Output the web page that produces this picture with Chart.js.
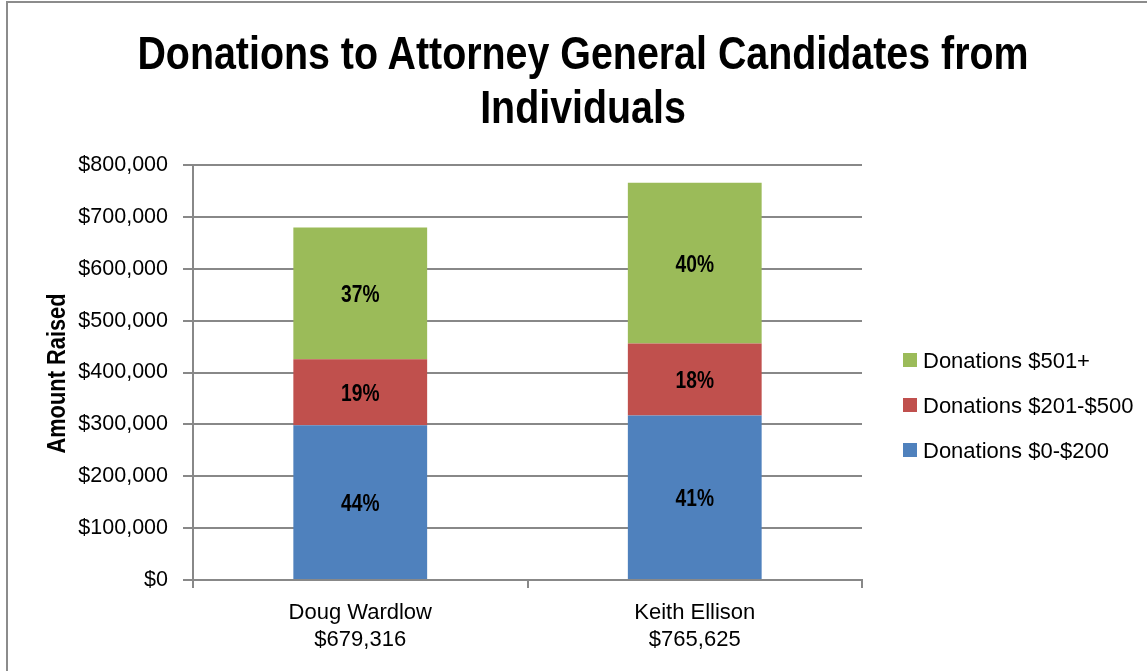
<!DOCTYPE html>
<html lang="en">
<head>
<meta charset="utf-8">
<title>Donations to Attorney General Candidates from Individuals</title>
<script src="https://cdn.jsdelivr.net/npm/chart.js"></script>
<style>
  html, body { margin: 0; padding: 0; background: #fff; overflow: hidden; }
  .chart-box { position: relative; width: 1147px; height: 671px; font-family: 'Liberation Sans', Arial, sans-serif; }
  .chart-box canvas { position: absolute; left: 0; top: 0; }
  .chart-frame { position: absolute; left: 6px; top: 1px; width: 1200px; height: 720px; border: 2px solid #8c8c8c; pointer-events: none; }
  /* bold narrow heading: the condensed face isn't installed, so squeeze the regular bold */
  .chart-title { position: absolute; left: 0; top: 26px; width: 1166px; margin: 0; text-align: center;
    font-weight: bold; font-size: 46px; line-height: 54px; color: #000;
    transform: scaleX(0.856); transform-origin: 583px 0; }
  .chart-legend { position: absolute; left: 903px; top: 338px; margin: 0; padding: 0; list-style: none; }
  .chart-legend li { display: flex; align-items: center; height: 45.3px; font-size: 22px; line-height: 22px; color: #000; white-space: nowrap; }
  .chart-legend .swatch { display: inline-block; width: 14px; height: 14px; margin-right: 6px; position: relative; top: -1px; }
</style>
</head>
<body>
<div class="chart-box">
  <canvas id="donationsChart" width="1147" height="671"></canvas>
  <h1 class="chart-title">Donations to Attorney General Candidates from<br>Individuals</h1>
  <ul class="chart-legend" id="donationsLegend"></ul>
  <div class="chart-frame"></div>
</div>
<script>
// candidates and their totals raised from individuals
const candidates = ['Doug Wardlow', 'Keith Ellison'];
const totals = [679316, 765625];

// amount raised by donation size
const upTo200 = [298500, 317000];
const from201To500 = [127000, 139000];
const over500 = [253816, 309625];

const yTicks = [0, 100000, 200000, 300000, 400000, 500000, 600000, 700000, 800000];

const sansFont = "'Liberation Sans', Arial, sans-serif";
const axisGray = '#888888';

function money(v) {
    return '$' + v.toLocaleString('en-US');
}

// bold text squeezed horizontally, like a narrow face
function narrowText(ctx, text, x, y, size, squeeze, angle) {
    ctx.save();
    ctx.translate(x, y);
    ctx.rotate(angle || 0);
    ctx.scale(squeeze, 1);
    ctx.font = 'bold ' + size + 'px ' + sansFont;
    ctx.fillText(text, 0, 0);
    ctx.restore();
}

// share of each segment, written in the middle of the bar
const percentLabels = {
    id: 'percentLabels',
    afterDatasetsDraw(chart) {
        const ctx = chart.ctx;
        ctx.save();
        ctx.fillStyle = '#000';
        ctx.textAlign = 'center';
        ctx.textBaseline = 'middle';
        chart.data.datasets.forEach((ds, i) => {
            chart.getDatasetMeta(i).data.forEach((bar, j) => {
                const pct = Math.round(ds.data[j] / totals[j] * 100);
                // +2 so the digits, not the em box, sit on the middle
                narrowText(ctx, pct + '%', bar.x, (bar.y + bar.base) / 2 + 2, 24, 0.8);
            });
        });
        ctx.restore();
    }
};

// vertical axis title, baseline just left of the tick labels
const axisTitle = {
    id: 'axisTitle',
    afterDraw(chart) {
        const ctx = chart.ctx;
        const area = chart.chartArea;
        ctx.save();
        ctx.fillStyle = '#000';
        ctx.textAlign = 'center';
        ctx.textBaseline = 'alphabetic';
        narrowText(ctx, 'Amount Raised', 65, (area.top + area.bottom) / 2 + 1, 26, 0.84, -Math.PI / 2);
        ctx.restore();
    }
};

const ctx = document.getElementById('donationsChart').getContext('2d');
const donationsChart = new Chart(ctx, {
    type: 'bar',
    data: {
        labels: candidates.map((name, i) => [name, money(totals[i])]),
        datasets: [{
            label: 'Donations $0-$200',
            data: upTo200,
            backgroundColor: '#4f81bd'
        }, {
            label: 'Donations $201-$500',
            data: from201To500,
            backgroundColor: '#c0504d'
        }, {
            label: 'Donations $501+',
            data: over500,
            backgroundColor: '#9bbb59'
        }]
    },
    options: {
        responsive: false,
        animation: false,
        barPercentage: 0.4,
        categoryPercentage: 1.0,
        layout: { padding: { top: 165, right: 285, bottom: 0, left: 40 } },
        plugins: {
            legend: { display: false },
            title: { display: false },
            tooltip: { enabled: false }
        },
        scales: {
            x: {
                stacked: true,
                grid: { offset: true, drawOnChartArea: false, color: axisGray, lineWidth: 2, tickLength: 8 },
                border: { color: axisGray, width: 2 },
                ticks: { color: '#000', font: { family: sansFont, size: 22, lineHeight: 1.25 }, padding: 11 },
                afterFit: s => { s.height = 91; }
            },
            y: {
                stacked: true,
                min: 0,
                max: 800000,
                afterBuildTicks: s => { s.ticks = yTicks.map(v => ({ value: v })); },
                grid: { color: axisGray, lineWidth: 2, tickLength: 10 },
                border: { color: axisGray, width: 2 },
                ticks: { color: '#000', font: { family: sansFont, size: 21.5 }, padding: 15, callback: v => money(v) },
                afterFit: s => { s.width = 153; }
            }
        }
    },
    plugins: [percentLabels, axisTitle]
});

// legend, largest donations on top
const legendEl = document.getElementById('donationsLegend');
donationsChart.data.datasets.slice().reverse().forEach(ds => {
    const li = document.createElement('li');
    const swatch = document.createElement('span');
    swatch.className = 'swatch';
    swatch.style.background = ds.backgroundColor;
    li.appendChild(swatch);
    li.appendChild(document.createTextNode(ds.label));
    legendEl.appendChild(li);
});
</script>
</body>
</html>
